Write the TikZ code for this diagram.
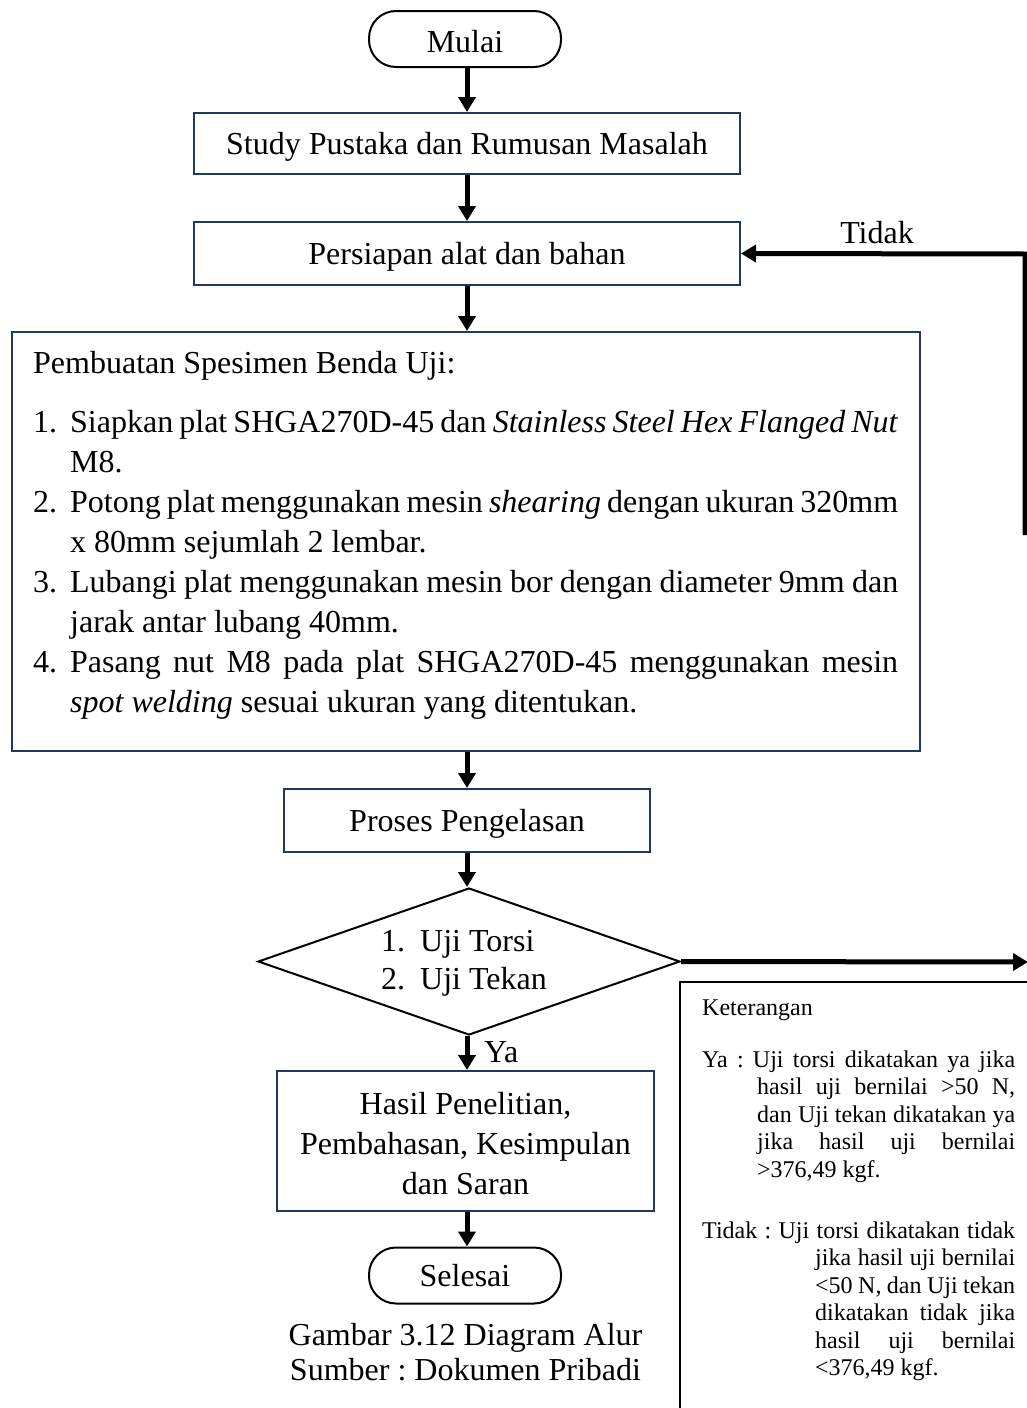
\documentclass[tikz,border=0pt]{standalone}
\usepackage{fontspec}
\setmainfont{Liberation Serif}
\usetikzlibrary{arrows.meta,shapes.geometric}
\definecolor{navy}{RGB}{31,56,100}
\newcommand\lstitm[2]{\hbox{\hbox to 37pt{#1\hfil}\hbox to 828pt{#2}}}
\newcommand\lstcnt[1]{\hbox{\hskip37pt #1}}
\frenchspacing
\begin{document}
\frenchspacing
\begin{tikzpicture}[x=1pt,y=-1pt,
  font=\fontsize{32}{40}\selectfont\frenchspacing,
  procbox/.style={draw=navy,line width=2pt,rectangle,inner sep=0pt},
  oneline/.style={text height=25pt,text depth=3pt},
  term/.style={draw=black,line width=2pt,rectangle,rounded corners=27pt,minimum width=192pt,minimum height=56pt,inner sep=0pt},
  flow/.style={line width=5pt,-{Triangle[length=15pt,width=17pt]}},
  thinline/.style={line width=2pt},
  small/.style={font=\fontsize{24}{27.5}\selectfont\frenchspacing}]

\useasboundingbox (0,0) rectangle (1027,1408);

% main flow nodes
\node[term, text height=27pt, text depth=0pt] (mulai) at (465,39) {Mulai};
\node[procbox, oneline, minimum width=546pt, minimum height=61pt] (study) at (467,143.5) {Study Pustaka dan Rumusan Masalah};
\node[procbox, oneline, minimum width=546pt, minimum height=63pt] (persiapan) at (467,253.5) {Persiapan alat dan bahan};
\node[procbox, minimum width=908pt, minimum height=419pt] (spec) at (466,541.5) {};
\node[anchor=base west, inner sep=0pt] (spectext) at (33,373) {\vtop{\baselineskip=40pt\lineskiplimit=-50pt
  \hbox{Pembuatan Spesimen Benda Uji:}
  \vskip19pt
  \lstitm{1.}{Siapkan plat SHGA270D-45 dan \textit{Stainless Steel Hex Flanged Nut}}
  \lstcnt{M8.}
  \lstitm{2.}{Potong plat menggunakan mesin \textit{shearing} dengan ukuran 320mm}
  \lstcnt{x 80mm sejumlah 2 lembar.}
  \lstitm{3.}{Lubangi plat menggunakan mesin bor dengan diameter 9mm dan}
  \lstcnt{jarak antar lubang 40mm.}
  \lstitm{4.}{Pasang nut M8 pada plat SHGA270D-45 menggunakan mesin}
  \lstcnt{\textit{spot welding} sesuai ukuran yang ditentukan.}}};
\node[procbox, oneline, minimum width=366pt, minimum height=63pt] (proses) at (467,820.5) {Proses Pengelasan};
\node[draw=black, line width=2pt, shape=diamond, minimum width=422pt, minimum height=147pt, inner sep=0pt] (uji) at (469,961.5) {};
\node[anchor=base west, inner sep=0pt] (ujitext) at (381,951) {\vtop{\baselineskip=38pt\lineskiplimit=-50pt
  \hbox{\hbox to 39pt{1.\hfil}Uji Torsi}
  \hbox{\hbox to 39pt{2.\hfil}Uji Tekan}}};
\node[procbox, minimum width=377pt, minimum height=140pt] (hasil) at (465.5,1141) {};
\node[align=center, inner sep=0pt] (hasiltext) at (465.5,1143.5) {Hasil Penelitian,\\Pembahasan, Kesimpulan\\dan Saran};
\node[term, oneline] (selesai) at (465,1275.5) {Selesai};
\node[align=center, inner sep=0pt, font=\fontsize{32}{35}\selectfont] (caption) at (465.5,1352) {Gambar 3.12 Diagram Alur\\Sumber : Dokumen Pribadi};

% labels
\node[anchor=base west, inner sep=0pt] (ya) at (484,1062) {Ya};
\node[anchor=base, inner sep=0pt] (tidak) at (877,243) {Tidak};

% main arrows
\draw[flow] (mulai.south -| study) -- (study.north);
\draw[flow] (study) -- (persiapan);
\draw[flow] (persiapan) -- (persiapan.south |- spec.north);
\draw[flow] (spec.south -| persiapan) -- (proses.north);
\draw[flow] (proses.south) -- (proses.south |- uji.north);
\draw[flow] (uji.south -| proses) -- (hasil.north -| proses);
\draw[flow] (hasil.south -| proses) -- (selesai.north -| proses);

% loop back (Tidak)
\coordinate (loopend) at (1025,535);
\coordinate (loopcorner) at (1025,254);
\draw[flow] (loopend) -- (loopcorner) -- (persiapan.east);
\coordinate (uji-out) at (1028,962);
\draw[flow] (uji.east) -- (uji-out);

% keterangan box
\coordinate (kettr) at (1030,982);
\coordinate (kettl) at (680,982);
\coordinate (ketbl) at (680,1412);
\draw[thinline] (kettr) -- (kettl) -- (ketbl);
\node[small, anchor=base west, inner sep=0pt] (ket) at (702,1015) {Keterangan};
\node[small, anchor=base west, inner sep=0pt] (ketya) at (702,1067) {\vtop{\baselineskip=27.5pt\lineskiplimit=-50pt
  \hbox to 313pt{Ya : Uji torsi dikatakan ya jika}
  \hbox{\hskip55pt\hbox to 258pt{hasil uji bernilai >50 N,}}
  \hbox{\hskip55pt\hbox to 258pt{dan Uji tekan dikatakan ya}}
  \hbox{\hskip55pt\hbox to 258pt{jika hasil uji bernilai}}
  \hbox{\hskip55pt >376,49 kgf.}}};
\node[small, anchor=base west, inner sep=0pt] (kettidak) at (702,1238) {\vtop{\baselineskip=27.5pt\lineskiplimit=-50pt
  \hbox to 313pt{Tidak : Uji torsi dikatakan tidak}
  \hbox{\hskip113pt\hbox to 200pt{jika hasil uji bernilai}}
  \hbox{\hskip113pt\hbox to 200pt{<50 N, dan Uji tekan}}
  \hbox{\hskip113pt\hbox to 200pt{dikatakan tidak jika}}
  \hbox{\hskip113pt\hbox to 200pt{hasil uji bernilai}}
  \hbox{\hskip113pt <376,49 kgf.}}};
\end{tikzpicture}
\end{document}
